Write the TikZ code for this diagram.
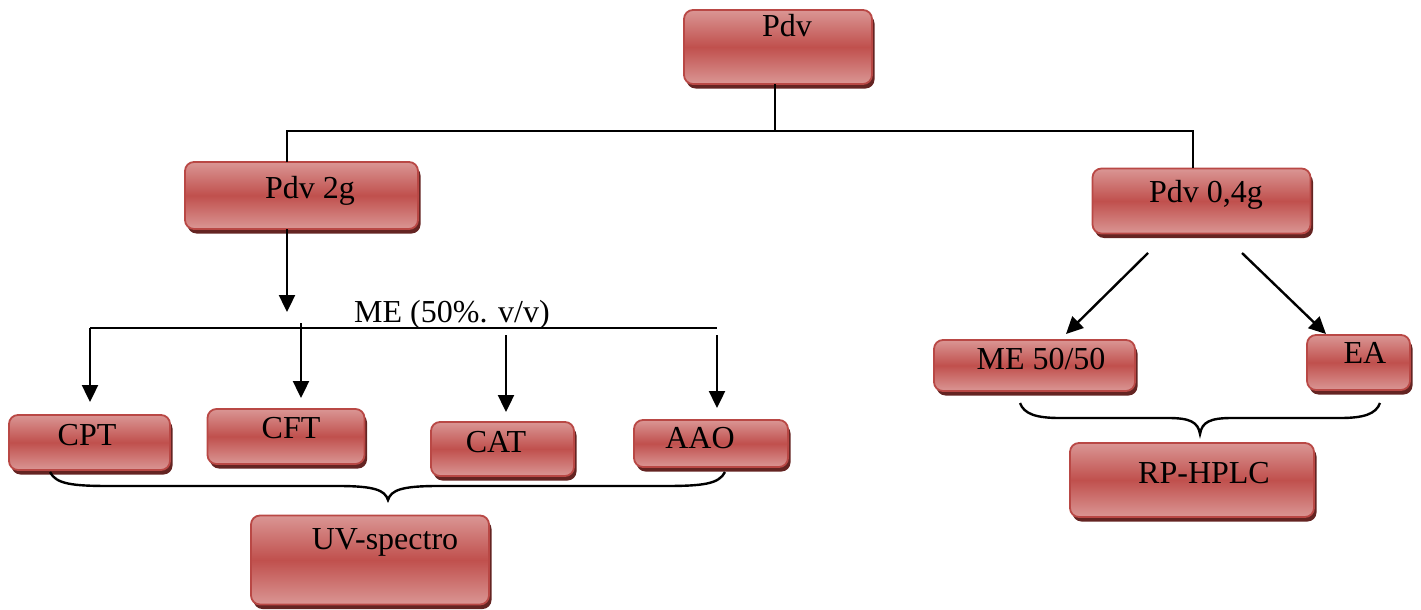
\documentclass[tikz,border=0pt]{standalone}
\usepackage{fontspec}
\setmainfont{Liberation Serif}
\usetikzlibrary{arrows.meta,shadows}
\definecolor{boxtop}{RGB}{218,150,148}
\definecolor{boxmid}{RGB}{192,80,77}
\definecolor{boxedge}{RGB}{185,72,69}
\definecolor{boxshadow}{RGB}{100,36,34}
\tikzset{
  box/.style={rectangle, rounded corners=9pt, draw=boxedge, line width=1.8pt,
    top color=boxtop, bottom color=boxtop, middle color=boxmid,
    drop shadow={shadow xshift=2.5pt, shadow yshift=-4.5pt, fill=boxshadow, opacity=1},
    inner sep=0pt},
  lbl/.style={anchor=base, inner sep=0pt, font=\fontsize{32}{38}\selectfont},
  conn/.style={line width=2.4pt, draw=black},
  arr/.style={line width=2.4pt, draw=black, -{Triangle[length=17pt,width=16pt]}},
  brc/.style={line width=2.4pt, draw=black}
}
\begin{document}
\begin{tikzpicture}[x=1pt,y=-1pt]
\useasboundingbox (0,0) rectangle (1421,610);
% boxes
\node[box, minimum width=188pt, minimum height=74pt] (pdv) at (778,47) {};
\node[box, minimum width=233pt, minimum height=67pt] (p2g) at (301.5,195.5) {};
\node[box, minimum width=218pt, minimum height=65pt] (p04) at (1201.5,201) {};
\node[box, minimum width=161pt, minimum height=55pt] (cpt) at (89.5,442.5) {};
\node[box, minimum width=157pt, minimum height=55pt] (cft) at (286,436.5) {};
\node[box, minimum width=143pt, minimum height=54pt] (cat) at (502.5,449) {};
\node[box, minimum width=154pt, minimum height=47pt] (aao) at (711,443.5) {};
\node[box, minimum width=238pt, minimum height=89pt] (uv) at (370,560) {};
\node[box, minimum width=201pt, minimum height=51pt] (me) at (1034.5,365.5) {};
\node[box, minimum width=103pt, minimum height=55pt] (ea) at (1358.5,362.5) {};
\node[box, minimum width=244pt, minimum height=74pt] (rp) at (1192,480) {};
% labels
\node[lbl] (tpdv) at (787,37) {Pdv};
\node[lbl] (tp2g) at (310,198) {Pdv 2g};
\node[lbl] (tp04) at (1206,202) {Pdv 0,4g};
\node[lbl] (tcpt) at (87,445) {CPT};
\node[lbl] (tcft) at (291,438) {CFT};
\node[lbl] (tcat) at (496,452) {CAT};
\node[lbl] (taao) at (700,448) {AAO};
\node[lbl] (tme5) at (452,322) {ME (50\%. v/v)};
\node[lbl] (tuv) at (385,549) {UV-spectro};
\node[lbl] (tme) at (1041,369) {ME 50/50};
\node[lbl] (tea) at (1365,363) {EA};
\node[lbl] (trp) at (1204,483) {RP-HPLC};
% top tree
\coordinate (ja) at (775,84);
\coordinate (jb) at (775,131);
\coordinate (jl) at (287,131);
\coordinate (jr) at (1193,131);
\coordinate (jl2) at (287,162);
\coordinate (jr2) at (1193,168);
\draw[conn] (ja) -- (jb);
\draw[conn] (jl2) -- (jl) -- (jr) -- (jr2);
% Pdv 2g branch
\coordinate (a0s) at (287,229);
\coordinate (a0e) at (287,312);
\draw[arr] (a0s) -- (a0e);
\coordinate (hl) at (90,328);
\coordinate (hr) at (717,328);
\draw[conn] (hl) -- (hr);
\coordinate (a1e) at (90,402);
\coordinate (a2s) at (301,323);
\coordinate (a2e) at (301,398);
\coordinate (a3s) at (506,335);
\coordinate (a3e) at (506,412);
\coordinate (a4s) at (717,335);
\coordinate (a4e) at (717,408);
\draw[arr] (hl) -- (a1e);
\draw[arr] (a2s) -- (a2e);
\draw[arr] (a3s) -- (a3e);
\draw[arr] (a4s) -- (a4e);
% Pdv 0,4g branch
\coordinate (b1s) at (1148,253);
\coordinate (b1e) at (1066,334);
\coordinate (b2s) at (1242,253);
\coordinate (b2e) at (1326,334);
\draw[arr] (b1s) -- (b1e);
\draw[arr] (b2s) -- (b2e);
% braces
\coordinate (bl1) at (50,472);
\coordinate (bl2) at (725,472);
\coordinate (blt) at (388,500);
\draw[brc] (bl1) .. controls (56,484) and (72,486) .. (110,486)
  -- (338,486) .. controls (374,486) and (385,490) .. (blt)
  .. controls (391,490) and (402,486) .. (438,486)
  -- (665,486) .. controls (703,486) and (719,484) .. (bl2);
\coordinate (br1) at (1020,403);
\coordinate (br2) at (1380,403);
\coordinate (brt) at (1200,434);
\draw[brc] (br1) .. controls (1024,414) and (1036,418) .. (1060,418)
  -- (1168,418) .. controls (1190,418) and (1198,422) .. (brt)
  .. controls (1202,422) and (1210,418) .. (1232,418)
  -- (1340,418) .. controls (1364,418) and (1376,414) .. (br2);
\end{tikzpicture}
\end{document}
